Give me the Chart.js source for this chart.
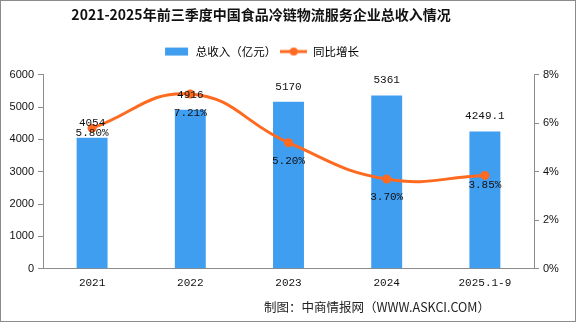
<!DOCTYPE html>
<html>
<head>
<meta charset="utf-8">
<script src="https://cdn.jsdelivr.net/npm/chart.js@4.4.1/dist/chart.umd.min.js"></script>
<style>
  html, body { margin: 0; padding: 0; background: #fff; }
  #wrap { position: relative; width: 576px; height: 322px; box-sizing: border-box; border: 1px solid #8c8c8c; }
  canvas { display: block; }
</style>
</head>
<body>
<div id="wrap"><canvas id="c" width="574" height="320"></canvas></div>
<script>
/* ---- data ---- */
const categories = ["2021", "2022", "2023", "2024", "2025.1-9"];
const revenue    = [4054, 4916, 5170, 5361, 4249.1];   // 亿元
const revenueTxt = ["4054", "4916", "5170", "5361", "4249.1"];
const growth     = [5.80, 7.21, 5.20, 3.70, 3.85];      // %
const leftTicks  = [0, 1000, 2000, 3000, 4000, 5000, 6000];
const rightTicks = [0, 2, 4, 6, 8];

const BAR_COLOR  = "#409ef1";
const LINE_COLOR = "#ff6a21";
const AXIS_COLOR = "#8c8c8c";
const MONO = "'Liberation Mono', 'DejaVu Sans Mono', monospace";
const SANS = "'Liberation Sans', Arial, sans-serif";
const CJK  = "'Noto Sans CJK SC', sans-serif";

// label offsets below each growth point (px), as placed in the original
const pctDy = [5, 19, 18, 18, 10];
const HEAD_SHIFT = 27;   // title + legend sit left of centre in the original
const LEGEND_H   = 33;

/* legend swatches */
function swatch(kind) {
  const c = document.createElement("canvas");
  c.width = 27; c.height = 10;
  const g = c.getContext("2d");
  if (kind === "bar") {
    g.fillStyle = BAR_COLOR;
    g.fillRect(2, 1, 23, 8);
  } else {
    g.strokeStyle = LINE_COLOR; g.lineWidth = 3;
    g.beginPath(); g.moveTo(0, 5); g.lineTo(27, 5); g.stroke();
    g.fillStyle = LINE_COLOR;
    g.beginPath(); g.arc(13.5, 5, 4, 0, Math.PI * 2); g.fill();
  }
  return c;
}
const barSwatch = swatch("bar"), lineSwatch = swatch("line");

const layoutPlugin = {
  id: "headLayout",
  beforeInit(chart) {
    const lg = chart.legend;
    const fit = lg.fit;
    lg.fit = function () { fit.call(this); this.height = LEGEND_H; };
  },
  afterLayout(chart) {
    [chart.titleBlock, chart.legend].forEach(b => { b.left -= HEAD_SHIFT; b.right -= HEAD_SHIFT; });
  }
};

const labelPlugin = {
  id: "valueLabels",
  afterDatasetsDraw(chart) {
    const ctx = chart.ctx;
    ctx.save();
    ctx.font = "11px " + MONO;
    ctx.fillStyle = "#111";
    ctx.textAlign = "center";
    ctx.textBaseline = "middle";
    chart.getDatasetMeta(1).data.forEach((bar, i) => {
      ctx.fillText(revenueTxt[i], bar.x, bar.y - 15);
    });
    chart.getDatasetMeta(0).data.forEach((pt, i) => {
      ctx.fillText(growth[i].toFixed(2) + "%", pt.x, pt.y + pctDy[i]);
    });
    // source note
    ctx.font = "12.5px " + CJK;
    ctx.fillStyle = "#222";
    ctx.textAlign = "right";
    ctx.fillText("制图：中商情报网（WWW.ASKCI.COM）", 489, 306);
    ctx.restore();
  }
};

const tickGrid = { display: true, drawOnChartArea: false, drawTicks: true, tickLength: 5, color: AXIS_COLOR };

new Chart(document.getElementById("c"), {
  type: "bar",
  data: {
    labels: categories,
    datasets: [
      {
        type: "line",
        label: "同比增长",
        data: growth,
        yAxisID: "y1",
        borderColor: LINE_COLOR,
        backgroundColor: LINE_COLOR,
        borderWidth: 3,
        tension: 0.45,
        pointRadius: 4.5,
        pointBackgroundColor: LINE_COLOR,
        pointBorderWidth: 0,
        order: 0
      },
      {
        type: "bar",
        label: "总收入（亿元）",
        data: revenue,
        yAxisID: "y",
        backgroundColor: BAR_COLOR,
        barPercentage: 0.315,
        categoryPercentage: 1,
        order: 1
      }
    ]
  },
  options: {
    responsive: false,
    animation: false,
    layout: { padding: { top: 0, left: 0, right: 0, bottom: 23 } },
    plugins: {
      title: {
        display: true,
        text: "2021-2025年前三季度中国食品冷链物流服务企业总收入情况",
        color: "#111",
        font: { family: CJK, size: 14, weight: "bold" },
        padding: { top: 5, bottom: 19 }
      },
      legend: {
        display: true,
        labels: {
          color: "#333",
          font: { family: CJK, size: 11.5 },
          usePointStyle: true,
          pointStyleWidth: 27,
          padding: 4,
          generateLabels() {
            return [
              { text: "总收入（亿元）", pointStyle: barSwatch, fillStyle: BAR_COLOR, strokeStyle: BAR_COLOR, lineWidth: 0, datasetIndex: 1 },
              { text: "同比增长", pointStyle: lineSwatch, fillStyle: LINE_COLOR, strokeStyle: LINE_COLOR, lineWidth: 0, datasetIndex: 0 }
            ];
          }
        }
      },
      tooltip: { enabled: false }
    },
    scales: {
      x: {
        grid: { display: false, drawTicks: false },
        border: { display: true, color: AXIS_COLOR, width: 1 },
        ticks: { color: "#111", font: { family: MONO, size: 11 }, padding: 8 }
      },
      y: {
        position: "left",
        min: 0, max: 6000,
        afterBuildTicks: s => { s.ticks = leftTicks.map(v => ({ value: v })); },
        afterFit: s => { s.width = 42; },
        grid: tickGrid,
        border: { display: true, color: AXIS_COLOR, width: 1 },
        ticks: { color: "#111", font: { family: SANS, size: 11 }, padding: 4, callback: v => String(v) }
      },
      y1: {
        position: "right",
        min: 0, max: 8,
        afterBuildTicks: s => { s.ticks = rightTicks.map(v => ({ value: v })); },
        afterFit: s => { s.width = 41; },
        grid: tickGrid,
        border: { display: true, color: AXIS_COLOR, width: 1 },
        ticks: { color: "#111", font: { family: SANS, size: 11 }, padding: 4, callback: v => v + "%" }
      }
    }
  },
  plugins: [layoutPlugin, labelPlugin]
});
</script>
</body>
</html>
